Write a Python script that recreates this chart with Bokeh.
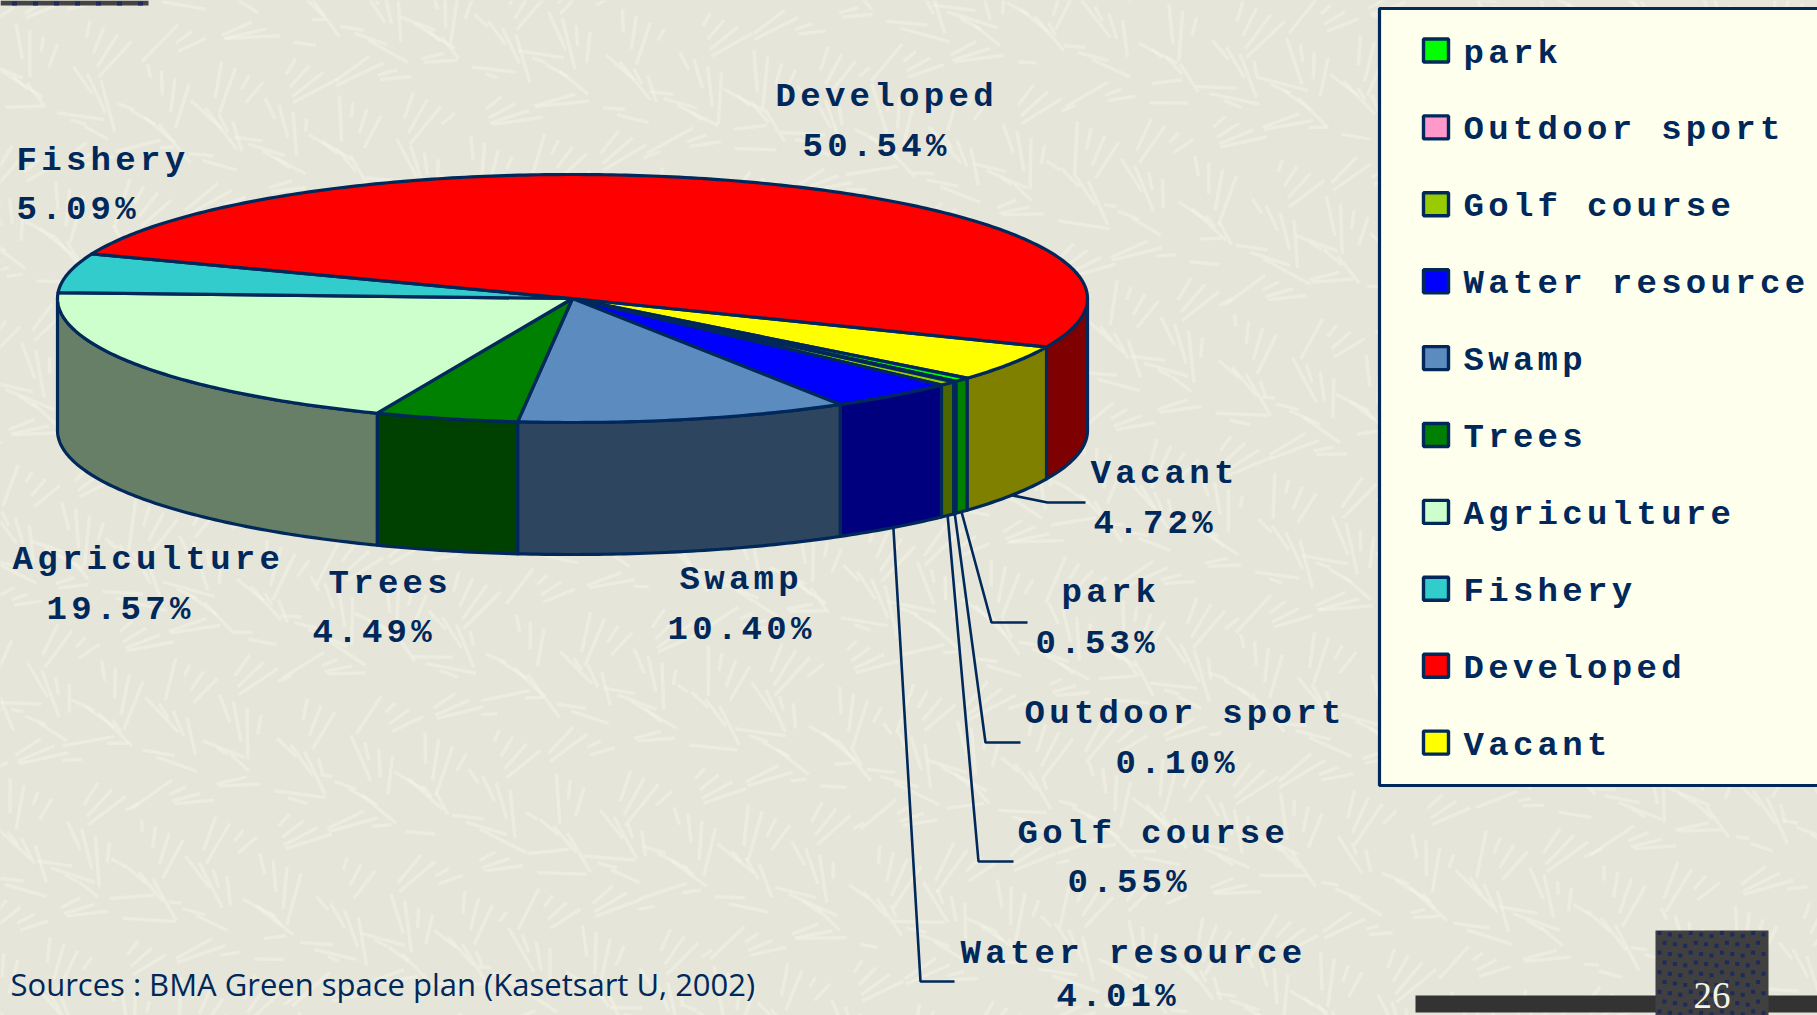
import math
import numpy as np
from bokeh.plotting import figure
from bokeh.layouts import column
from bokeh.models import Range1d, GlobalInlineStyleSheet
from bokeh.core.properties import value
from bokeh.embed import file_html
from bokeh.resources import INLINE

# ---------- data ----------
categories = ["Vacant", "park", "Outdoor sport", "Golf course", "Water resource",
              "Swamp", "Trees", "Agriculture", "Fishery", "Developed"]
shares = [4.72, 0.53, 0.10, 0.55, 4.01, 10.40, 4.49, 19.57, 5.09, 50.54]
colors = ["#FFFF00", "#00FF00", "#FF99CC", "#99CC00", "#0000FF",
          "#5B8BBF", "#008000", "#CCFFCC", "#33CCCC", "#FF0000"]
legend_order = ["park", "Outdoor sport", "Golf course", "Water resource", "Swamp",
                "Trees", "Agriculture", "Fishery", "Developed", "Vacant"]
source_text = "Sources : BMA Green space plan (Kasetsart U, 2002)"
page_number = "26"

# ---------- layout (pixels of the 1817x1015 page) ----------
W, H = 1817, 1015
CX, CY, A, B, DEPTH = 572.0, 298.0, 515.0, 124.0, 132.0
START_DEG = 23.0
NAVY = "#00285A"
BASE = "#E5E5D9"
label_pos = {  # name x, name baseline, value x, value baseline
    "Developed": (775, 96, 802, 146),
    "Fishery": (16, 160, 16, 209),
    "Vacant": (1090, 473, 1093, 523),
    "park": (1061, 592, 1035, 643),
    "Outdoor sport": (1024, 713, 1115, 763),
    "Golf course": (1017, 833, 1067, 882),
    "Water resource": (960, 953, 1056, 996),
    "Swamp": (679, 579, 667, 629),
    "Trees": (328, 583, 312, 632),
    "Agriculture": (12, 559, 46, 609),
}
leaders = {  # elbow x, elbow y, end x (last run is level)
    "Vacant": (1047, 502, 1085),
    "park": (991, 622, 1027),
    "Outdoor sport": (985, 742, 1020),
    "Golf course": (978, 861, 1013),
    "Water resource": (920, 981, 954),
}
LABEL_SIZE = "34px"


def darker(hex_color, f=0.5):
    r, g, b = [int(hex_color[i:i + 2], 16) for i in (1, 3, 5)]
    return "#%02X%02X%02X" % (int(r * f), int(g * f), int(b * f))


def arc(t0, t1, dy=0.0):
    n = max(2, int(abs(t1 - t0) / 0.75) + 2)
    t = np.radians(np.linspace(t0, t1, n))
    return CX + A * np.cos(t), CY + B * np.sin(t) + dy


# slice angles
edges = [START_DEG]
for s in shares:
    edges.append(edges[-1] + s * 3.6)

p = figure(width=W, height=H, output_backend="svg", toolbar_location=None,
           x_range=Range1d(0, W), y_range=Range1d(H, 0), min_border=0,
           x_axis_type=None, y_axis_type=None,
           background_fill_color=BASE, border_fill_color=BASE,
           outline_line_color=None,
           styles={"letter-spacing": "4.3px"},
           stylesheets=[GlobalInlineStyleSheet(css="html,body{margin:0;padding:0;overflow:hidden;background:%s}" % BASE)])
p.grid.visible = False

# ---------- paper texture (deterministic low-discrepancy scatter) ----------
idx = np.arange(1, 2601)
tx = (idx * 0.6180339887) % 1 * (W + 60) - 30
ty = (idx * 0.7548776662) % 1 * (H + 60) - 30
ta = (idx * 0.5698402910) % 1 * math.pi
tl = 12 + ((idx * 0.8191725134) % 1) * 42
p.segment(tx, ty, tx + tl * np.cos(ta), ty + tl * np.sin(ta),
          line_color="#F4F4E8", line_width=3.5, line_alpha=0.5)

# ---------- side walls ----------
for i in range(len(shares)):
    for lo, hi in ((edges[i], edges[i + 1]), (edges[i] - 360, edges[i + 1] - 360)):
        t0, t1 = max(lo, 0), min(hi, 180)
        if t1 <= t0:
            continue
        x1, y1 = arc(t0, t1)
        x2, y2 = arc(t1, t0, DEPTH)
        p.patch(np.r_[x1, x2], np.r_[y1, y2], fill_color=darker(colors[i]),
                line_color=NAVY, line_width=3.2, line_join="round")

# ---------- top faces ----------
for i in range(len(shares)):
    x, y = arc(edges[i], edges[i + 1])
    p.patch(np.r_[CX, x], np.r_[CY, y], fill_color=colors[i],
            line_color=NAVY, line_width=3.2, line_join="round")

# ---------- leader lines ----------
for name, (ex, ey, endx) in leaders.items():
    i = categories.index(name)
    mid = math.radians((edges[i] + edges[i + 1]) / 2)
    sx, sy = CX + A * math.cos(mid), CY + B * math.sin(mid) + DEPTH
    p.line([sx, ex, endx], [sy, ey, ey], line_color=NAVY, line_width=2.6)

# ---------- labels ----------
FONT = value("Liberation Mono")
for name, v in zip(categories, shares):
    nx, ny, vx, vy = label_pos[name]
    p.text([nx], [ny], text=[name], text_font=FONT, text_font_style="bold", text_font_size=LABEL_SIZE,
           text_color=NAVY, text_baseline="alphabetic", text_align="left")
    p.text([vx], [vy], text=["%.2f%%" % v], text_font=FONT, text_font_style="bold", text_font_size=LABEL_SIZE,
           text_color=NAVY, text_baseline="alphabetic", text_align="left")

# ---------- legend ----------
p.quad(left=[1379], right=[W + 20], top=[8], bottom=[785], fill_color="#FFFFEE",
       line_color=NAVY, line_width=3.2)
for k, name in enumerate(legend_order):
    yc = 50 + k * 76.9
    col = colors[categories.index(name)]
    p.quad(left=[1423], right=[1448], top=[yc - 11.5], bottom=[yc + 11.5], fill_color=col,
           line_color=NAVY, line_width=3.4)
    p.text([1463], [yc + 3], text=[name], text_font=FONT, text_font_style="bold", text_font_size=LABEL_SIZE,
           text_color=NAVY, text_baseline="alphabetic", text_align="left")

# ---------- slide furniture ----------
p.quad(left=[1415], right=[W], top=[995], bottom=[1012], fill_color="#333333", line_color=None)
p.quad(left=[0], right=[148], top=[0], bottom=[5], fill_color="#444444", line_color=None)
p.quad(left=[1655], right=[1768], top=[930], bottom=[H], fill_color="#404040", line_color=None)
dx, dy = [], []
for r in range(9):
    for c in range(11):
        x_dot = 1659 + c * 10.4 + (r % 2) * 5
        if x_dot < 1765:
            dx.append(x_dot)
            dy.append(934 + r * 9.8 + ((c % 3) - 1) * 1.5)
p.rect(dx, dy, width=4, height=4, fill_color="#1C2A5C", line_color=None)
p.rect(list(np.arange(0, 148, 21) + 14), [3] * 7, width=5, height=4, fill_color="#1C2A5C", line_color=None)

# ---------- un-spaced texts on a transparent overlay ----------
q = figure(width=W, height=H, output_backend="svg", toolbar_location=None,
           x_range=Range1d(0, W), y_range=Range1d(H, 0), min_border=0,
           x_axis_type=None, y_axis_type=None,
           background_fill_color=None, border_fill_color=None, outline_line_color=None,
           styles={"position": "absolute", "left": "0", "top": "0", "letter-spacing": "0"})
q.grid.visible = False
q.text([10], [983], text=[source_text], text_font=value("Open Sans"), text_font_size="31px",
       text_color=NAVY, text_baseline="alphabetic", text_align="left")
q.text([1693], [995], text=[page_number], text_font=value("Liberation Serif"), text_font_size="37px",
       text_color="#F5F5E5", text_baseline="alphabetic", text_align="left")

open("out.html", "w").write(file_html(column(p, q), INLINE))
